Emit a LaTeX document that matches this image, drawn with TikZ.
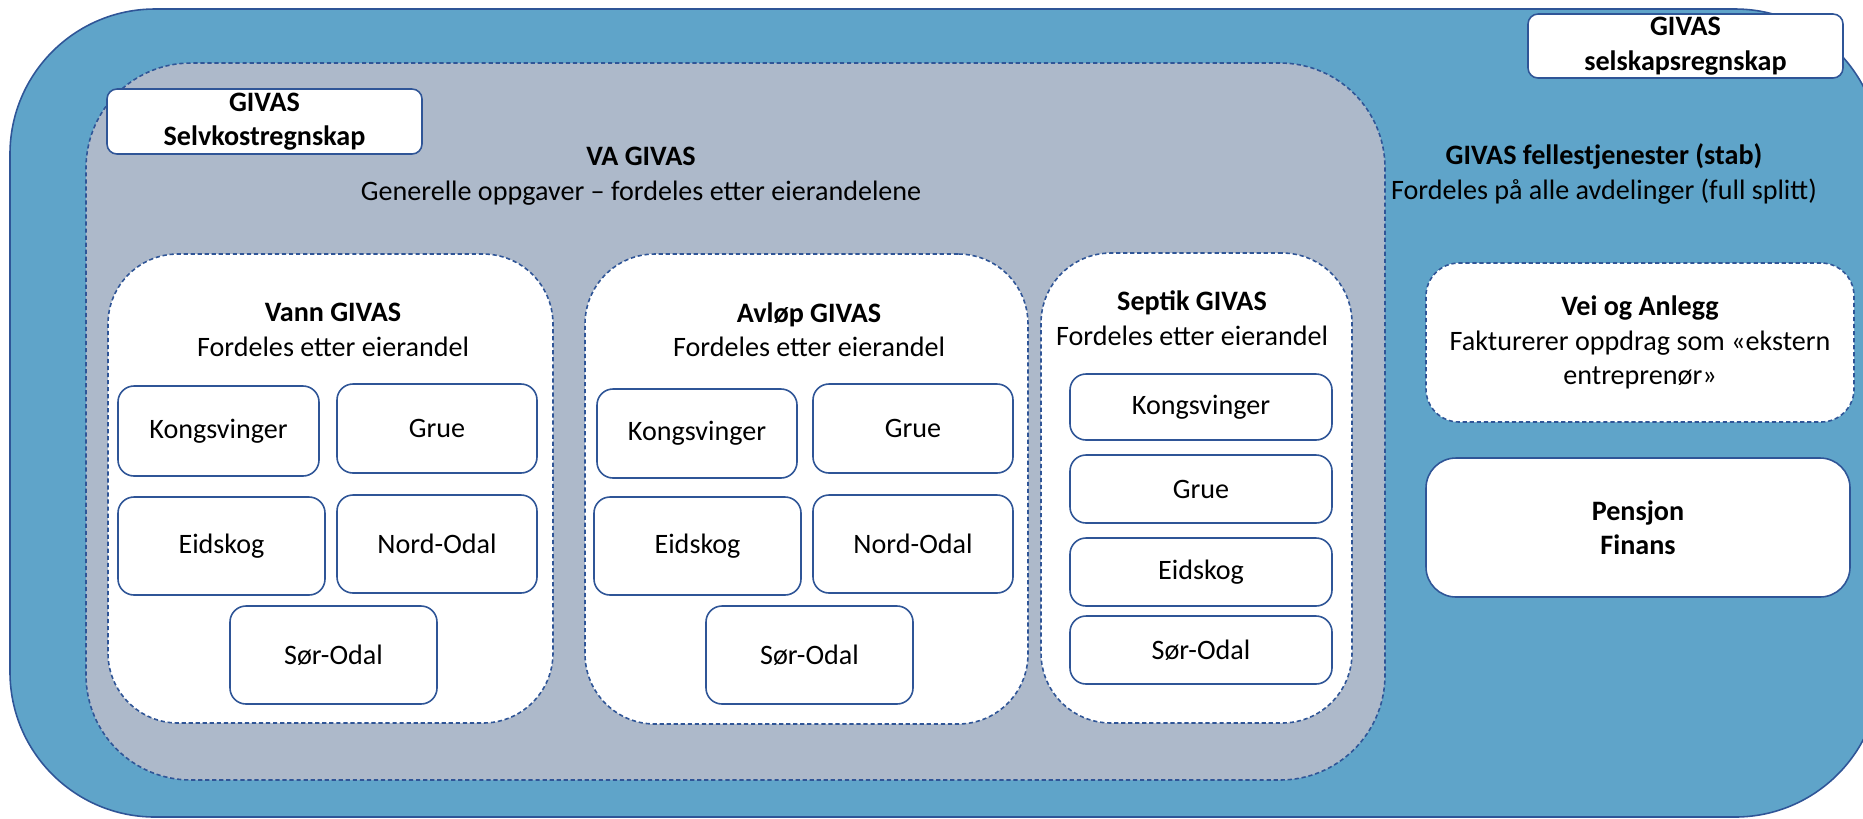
\documentclass[tikz,border=0pt]{standalone}
\usepackage{fontspec}
\setmainfont{Carlito}
\definecolor{givasblue}{RGB}{95,164,201}
\definecolor{vagray}{RGB}{173,185,202}
\definecolor{edgeblue}{RGB}{47,85,151}

\begin{document}
\begin{tikzpicture}[x=0.1mm,y=-0.1mm,line join=round,
  wh/.style 2 args={minimum width=#1*0.1mm,minimum height=#2*0.1mm,inner sep=0pt},
  rim/.style={draw=edgeblue,line width=0.45pt},
  dashrim/.style={rim,dash pattern=on 1.2pt off 0.8pt},
  head/.style={align=center,font=\fontsize{8}{9.8}\selectfont},
  town/.style={rim,fill=white,rounded corners=1.6mm,head}]
\useasboundingbox (0,0) rectangle (1863,818);
\clip (0,0) rectangle (1863,818);
% outer and VA area
\node[rim,fill=givasblue,rounded corners=1.45cm,wh={1870}{808}] (givas) at (945,413) {};
\node[dashrim,fill=vagray,rounded corners=1.05cm,wh={1299}{717}] (va) at (735.5,421.5) {};
\node[rim,fill=white,rounded corners=1mm,wh={315}{65},head] (selvkost) at (264.5,121.5) {\textbf{GIVAS}\\\textbf{Selvkostregnskap}};
\node[rim,fill=white,rounded corners=1mm,wh={315}{64},head] (selskap) at (1685.5,46) {\textbf{GIVAS}\\\textbf{selskapsregnskap}};
\node[head] (vatitle) at (641,176) {\textbf{VA GIVAS}\\Generelle oppgaver – fordeles etter eierandelene};
\node[head] (stab) at (1604,174) {\textbf{GIVAS fellestjenester (stab)}\\Fordeles på alle avdelinger (full splitt)};
% Vann
\node[dashrim,fill=white,rounded corners=7mm,wh={445}{469}] (vann) at (330.5,488.5) {};
\node[head] (vanntitle) at (333,330) {\textbf{Vann GIVAS}\\Fordeles etter eierandel};
\node[town,wh={201}{90}] (vannkongs) at (218.5,431) {Kongsvinger};
\node[town,wh={200}{89}] (vanngrue) at (437,428.5) {Grue};
\node[town,wh={207}{98}] (vanneids) at (221.5,546) {Eidskog};
\node[town,wh={200}{98}] (vannnord) at (437,544) {Nord-Odal};
\node[town,wh={207}{98}] (vannsor) at (333.5,655) {Sør-Odal};
% Avlop
\node[dashrim,fill=white,rounded corners=7mm,wh={443}{470}] (avlop) at (806.5,489) {};
\node[head] (avloptitle) at (809,330) {\textbf{Avløp GIVAS}\\Fordeles etter eierandel};
\node[town,wh={200}{89}] (avlopkongs) at (697,433.5) {Kongsvinger};
\node[town,wh={200}{89}] (avlopgrue) at (913,428.5) {Grue};
\node[town,wh={207}{98}] (avlopeids) at (697.5,546) {Eidskog};
\node[town,wh={200}{98}] (avlopnord) at (913,544) {Nord-Odal};
\node[town,wh={207}{98}] (avlopsor) at (809.5,655) {Sør-Odal};
% Septik
\node[dashrim,fill=white,rounded corners=7mm,wh={311}{470}] (septik) at (1196.5,488) {};
\node[head] (septiktitle) at (1192,318) {\textbf{Septik GIVAS}\\Fordeles etter eierandel};
\node[town,wh={262}{66}] (septikkongs) at (1201,407) {Kongsvinger};
\node[town,wh={262}{68}] (septikgrue) at (1201,489) {Grue};
\node[town,wh={262}{68}] (septikeids) at (1201,572) {Eidskog};
\node[town,wh={262}{68}] (septiksor) at (1201,650) {Sør-Odal};
% right side
\node[dashrim,fill=white,rounded corners=3.3mm,wh={428}{159},head] (vei) at (1640,342.5) {\textbf{Vei og Anlegg}\\Fakturerer oppdrag som «ekstern\\entreprenør»};
\node[rim,fill=white,rounded corners=3mm,wh={424}{139},head] (pensjon) at (1638,527.5) {\textbf{Pensjon}\\\textbf{Finans}};
\end{tikzpicture}
\end{document}
